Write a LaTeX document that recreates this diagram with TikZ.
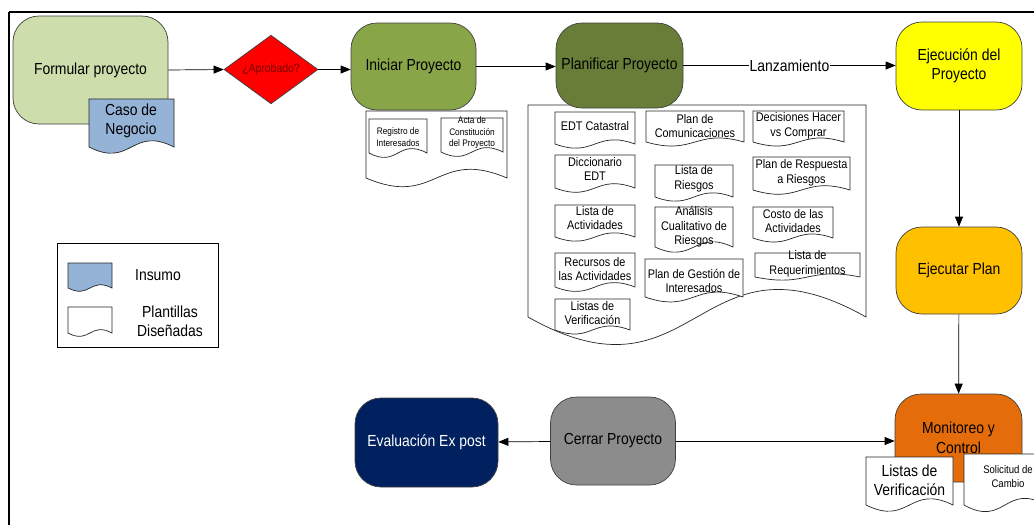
\documentclass[tikz,border=0pt]{standalone}
\usepackage{fontspec}
\setmainfont{Liberation Sans}[FakeStretch=0.87]
\usetikzlibrary{shapes.geometric,arrows.meta}

\definecolor{verdeclaro}{RGB}{205,221,172}
\definecolor{verdemedio}{RGB}{136,166,72}
\definecolor{verdeoscuro}{RGB}{104,126,56}
\definecolor{insumo}{RGB}{149,179,215}
\definecolor{rojooscuro}{RGB}{120,0,0}
\definecolor{amarillo}{RGB}{255,255,0}
\definecolor{ambar}{RGB}{255,192,0}
\definecolor{naranja}{RGB}{228,108,10}
\definecolor{gris}{RGB}{140,140,140}
\definecolor{marino}{RGB}{0,32,96}

% hoja con borde ondulado: [relleno]{x1}{y1}{x2}{y2}
\newcommand{\hoja}[5][white]{%
  \filldraw[draw=black!85, fill=#1] (#2,#3) -- (#4,#3) -- (#4,#5)
    .. controls ({(#2+#4)/2},{#5-0.45*(#5-#3)}) and ({(#2+#4)/2},{#5+0.45*(#5-#3)}) .. (#2,#5) -- cycle;}

\tikzset{
  paso/.style={draw=black!75, rounded corners=26pt, align=center, inner sep=2pt, font=\fontsize{16}{19.5}\selectfont},
  grande/.style={align=center, inner sep=0pt, font=\fontsize{16}{19}\selectfont},
  rotulo/.style={align=center, inner sep=0pt, font=\fontsize{12.5}{14.5}\selectfont},
  chico/.style={align=center, inner sep=0pt, font=\fontsize{9.5}{11.5}\selectfont},
  flecha/.style={-{Triangle[length=10pt,width=8pt]}},
}

\begin{document}
\begin{tikzpicture}[x=1pt,y=-1pt,line width=0.7pt]
  \useasboundingbox (0,0) rectangle (1034,525);
  % Marco
  \draw[line width=2.5pt] (9,12) -- (1040,12);
  \draw[line width=2.5pt] (9,12) -- (9,530);

  % Formular
  \node[paso, fill=verdeclaro, minimum width=155pt, minimum height=108pt] (formular) at (90.5,70) {Formular proyecto};
  \hoja[insumo]{89}{99}{174}{147}
  \node[grande] (caso) at (131,121) {Caso de\\Negocio};

  % Aprobado
  \node[diamond, draw=black!75, fill=red, minimum width=94pt, minimum height=65pt, inner sep=0pt,
        font=\fontsize{12}{14}\selectfont, text=rojooscuro] (aprobado) at (271,69.5) {¿Aprobado?};

  % Iniciar
  \node[paso, fill=verdemedio, minimum width=125pt, minimum height=87pt] (iniciar) at (413.5,66.5) {Iniciar Proyecto};
  \hoja{366}{111}{507}{178}
  \hoja{369}{119}{427}{153}
  \node[chico] (registro) at (398,137) {Registro de\\Interesados};
  \hoja{441}{118}{503}{152}
  \node[chico] (acta) at (472,133) {Acta de\\Constitución\\del Proyecto};

  % Planificar
  \hoja{528}{105}{866}{317}
  \node[paso, fill=verdeoscuro, minimum width=127pt, minimum height=85pt] (planificar) at (619.5,65.5) {Planificar Proyecto};
  \hoja{555}{112}{635}{144}
  \node[rotulo] (edt) at (595,126) {EDT Catastral};
  \hoja{646}{111}{744}{142}
  \node[rotulo] (comunicaciones) at (695,126) {Plan de\\Comunicaciones};
  \hoja{753}{111}{844}{142}
  \node[rotulo] (decisiones) at (798.5,126) {Decisiones Hacer\\vs Comprar};
  \hoja{555}{155}{635}{188}
  \node[rotulo] (diccionario) at (595,169) {Diccionario\\EDT};
  \hoja{655}{165}{733}{197}
  \node[rotulo] (riesgos) at (694,179) {Lista de\\Riesgos};
  \hoja{753}{157}{850}{190}
  \node[rotulo] (respuesta) at (801.5,173) {Plan de Respuesta\\a Riesgos};
  \hoja{555}{205}{635}{237}
  \node[rotulo] (actividades) at (595,218) {Lista de\\Actividades};
  \hoja{655}{207}{733}{247}
  \node[rotulo] (cualitativo) at (694,227) {Análisis\\Cualitativo de\\Riesgos};
  \hoja{753}{207}{833}{238}
  \node[rotulo] (costo) at (793,221) {Costo de las\\Actividades};
  \hoja{555}{253}{635}{287}
  \node[rotulo] (recursos) at (595,269) {Recursos de\\las Actividades};
  \hoja{645}{259}{743}{297}
  \node[rotulo] (gestion) at (694,281) {Plan de Gestión de\\Interesados};
  \hoja{755}{253}{860}{277}
  \node[rotulo] (requerimientos) at (807.5,264) {Lista de\\Requerimientos};
  \hoja{555}{299}{630}{330}
  \node[rotulo] (verificacion) at (592.5,313) {Listas de\\Verificación};

  % Ejecucion
  \node[paso, fill=amarillo, minimum width=126pt, minimum height=88pt] (ejecucion) at (959,66) {Ejecución del\\Proyecto};
  \node[paso, fill=ambar, minimum width=126pt, minimum height=87pt] (ejecutar) at (959,270.5) {Ejecutar Plan};
  \node[paso, fill=naranja, minimum width=127pt, minimum height=88pt] (monitoreo) at (958.5,438) {Monitoreo y\\Control};
  \hoja{866}{457}{953}{505}
  \node[grande] (listas) at (909.5,480) {Listas de\\Verificación};
  \hoja{964}{454}{1046}{505}
  \node[align=center, inner sep=0pt, font=\fontsize{11}{14}\selectfont] (solicitud) at (1008,477) {Solicitud de\\Cambio};

  % Cierre
  \node[paso, fill=gris, minimum width=125pt, minimum height=88pt] (cerrar) at (613,441) {Cerrar Proyecto};
  \node[paso, fill=marino, text=white, minimum width=143pt, minimum height=89pt] (evaluacion) at (426.5,442.5) {Evaluación Ex post};

  % Leyenda
  \draw (57,243) rectangle (218,347);
  \hoja[insumo]{68}{263}{112}{288}
  \node[grande] (insumo) at (158,275) {Insumo};
  \hoja{68}{307}{112}{333}
  \node[grande] (plantillas) at (170,321) {Plantillas\\Diseñadas};

  % Flechas
  \draw[flecha] (formular.east) -- (aprobado.west);
  \draw[flecha] (aprobado.east) -- (iniciar.west |- aprobado.east);
  \draw[flecha] (iniciar.east) -- (planificar.west |- iniciar.east);
  \draw[flecha] (planificar.east) -- node[grande, fill=white, inner sep=1pt] (lanzamiento) {Lanzamiento} (ejecucion.west |- planificar.east);
  \draw[flecha] (ejecucion) -- (ejecutar);
  \draw[flecha] (ejecutar) -- (monitoreo);
  \draw[flecha] (cerrar) -- (evaluacion);
  \draw[flecha] (cerrar.east) -- (monitoreo.west |- cerrar.east);
\end{tikzpicture}
\end{document}
